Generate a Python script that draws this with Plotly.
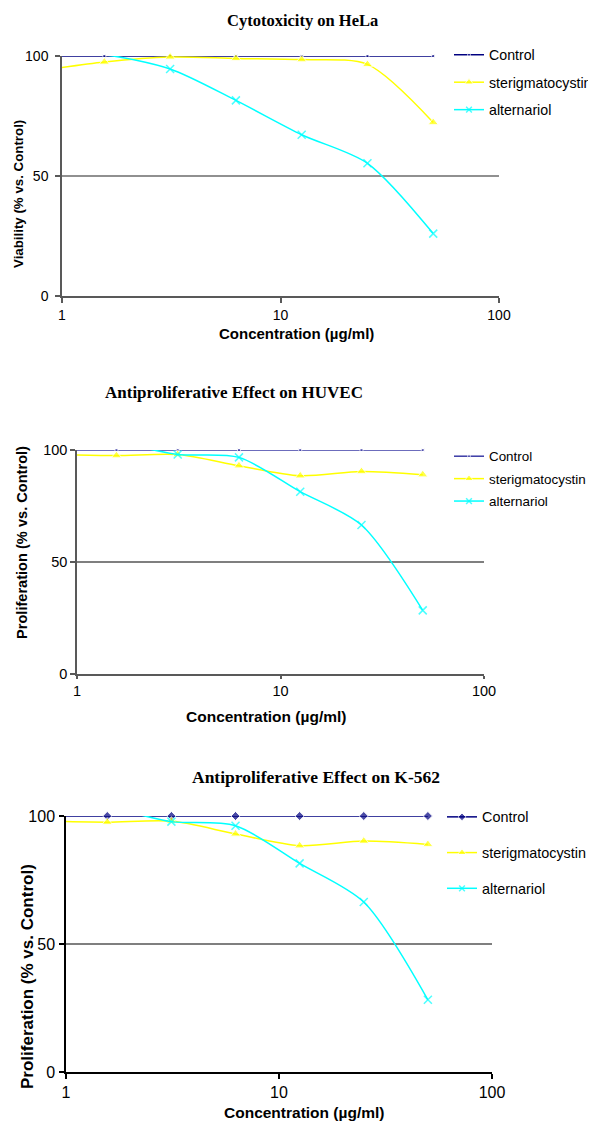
import plotly.graph_objects as go

W, H = 596, 1122
OFF = 8  # the page body has a default 8 px margin
FW, FH = W - OFF, H - OFF

# ---------------- data ----------------
conc = [0.78125, 1.5625, 3.125, 6.25, 12.5, 25, 50]
tick_vals_x = [1, 10, 100]
tick_text_x = ["1", "10", "100"]
tick_vals_y = [0, 50, 100]

series_names = ["Control", "sterigmatocystin", "alternariol"]

hela_control = [100, 100, 100, 100, 100, 100, 100]
hela_sterig = [93.8, 97.5, 99.6, 99.0, 98.5, 96.5, 72.3]
hela_altern = [101.0, 100.5, 94.6, 81.5, 67.2, 55.3, 26.0]

huvec_control = [100, 100, 100, 100, 100, 100, 100]
huvec_sterig = [98.0, 97.5, 98.0, 93.0, 88.5, 90.4, 89.0]
huvec_altern = [102.0, 103.0, 98.0, 96.7, 81.4, 66.5, 28.4]

k562_control = [100, 100, 100, 100, 100, 100, 100]
k562_sterig = [98.0, 97.6, 98.0, 93.0, 88.4, 90.2, 88.9]
k562_altern = [102.0, 103.0, 97.8, 96.2, 81.5, 66.4, 28.2]

titles = ["Cytotoxicity on HeLa", "Antiproliferative Effect on HUVEC",
          "Antiproliferative Effect on K-562"]
x_title = "Concentration (µg/ml)"
y_titles = ["Viability (% vs. Control)", "Proliferation (% vs. Control)",
            "Proliferation (% vs. Control)"]


# ---------------- layout helpers (page pixel based) ----------------
def px(x):
    return (x - OFF) / FW


def py(y):
    return 1 - (y - OFF) / FH


panels = [
    dict(x0=62, x1=499, ytop=56, ybot=296, data=(hela_control, hela_sterig, hela_altern),
         ctrl_color="#000080", ctrl_symbol="square", ctrl_size=3, axis_color="#595959",
         grid_color="#222222", tick_font=14, title_font=16.5, xt_font=15, yt_font=13.3,
         leg_font=14.2, xstand=0, ystand=4, xticklen=5,
         title_xy=(302, 20), xt_xy=(296, 333), yt_xy=(18, 194),
         leg_xy=(449, 39), leg_gap=6),
    dict(x0=77, x1=484, ytop=450, ybot=674, data=(huvec_control, huvec_sterig, huvec_altern),
         ctrl_color="#3b3ba6", ctrl_symbol="square", ctrl_size=3, axis_color="#595959",
         grid_color="#000000", tick_font=14.5, title_font=17, xt_font=15.5, yt_font=14.6,
         leg_font=13.4, xstand=0, ystand=0, xticklen=3,
         title_xy=(234, 392), xt_xy=(266, 716), yt_xy=(22, 543),
         leg_xy=(449, 441), leg_gap=2),
    dict(x0=66, x1=492, ytop=816, ybot=1072, data=(k562_control, k562_sterig, k562_altern),
         ctrl_color="#000080", ctrl_symbol="diamond", ctrl_size=7, axis_color="#000000",
         grid_color="#000000", tick_font=16, title_font=17.5, xt_font=15.5, yt_font=17,
         leg_font=14.4, xstand=0, ystand=1, xticklen=5,
         title_xy=(316, 777), xt_xy=(304, 1112), yt_xy=(27, 977),
         leg_xy=(442, 801), leg_gap=14),
]

fig = go.Figure()
annotations = []
shapes = []


def sizes(xs, ys, s):
    return [0 if (x < 1 or y > 100) else s for x, y in zip(xs, ys)]


for i, p in enumerate(panels):
    n = "" if i == 0 else str(i + 1)
    xa, ya = "x" + n, "y" + n
    leg = "legend" + n
    ctrl, ster, alt = p["data"]

    fig.add_trace(go.Scatter(
        x=conc, y=ctrl, name=series_names[0], mode="lines+markers",
        xaxis=xa, yaxis=ya, legend=leg, legendgroup=f"c{i}", cliponaxis=False,
        line=dict(color=p["ctrl_color"], width=1.5),
        marker=dict(symbol=p["ctrl_symbol"], color=p["ctrl_color"],
                    size=sizes(conc, ctrl, p["ctrl_size"]))))
    fig.add_trace(go.Scatter(
        x=conc, y=ster, name=series_names[1], mode="lines+markers",
        xaxis=xa, yaxis=ya, legend=leg, legendgroup=f"s{i}", cliponaxis=False,
        line=dict(color="#FFFF00", width=1.5, shape="spline", smoothing=0.8),
        marker=dict(symbol="triangle-up", color="#FFFF00",
                    size=sizes(conc, ster, 9))))
    fig.add_trace(go.Scatter(
        x=conc, y=alt, name=series_names[2], mode="lines+markers",
        xaxis=xa, yaxis=ya, legend=leg, legendgroup=f"a{i}", cliponaxis=False,
        line=dict(color="#00FFFF", width=1.5, shape="spline", smoothing=0.8),
        marker=dict(symbol="x-thin", color="#00FFFF", size=sizes(conc, alt, 8),
                    line=dict(color="#00FFFF", width=1.5))))

    xdom = [px(p["x0"]), px(p["x1"])]
    ydom = [py(p["ybot"]), py(p["ytop"])]
    axis_common = dict(showline=True, linecolor=p["axis_color"], linewidth=1.5,
                       ticks="outside", tickwidth=1.5, automargin=False,
                       tickcolor=p["axis_color"], showgrid=False, zeroline=False,
                       tickfont=dict(family="Liberation Sans, Arial", size=p["tick_font"],
                                     color="#000000"))
    fig.layout["xaxis" + n] = dict(axis_common, type="log", range=[0, 2], ticklen=p["xticklen"],
                                   tickvals=tick_vals_x, ticktext=tick_text_x,
                                   domain=xdom, anchor=ya, ticklabelstandoff=p["xstand"])
    fig.layout["yaxis" + n] = dict(axis_common, range=[0, 100], tickvals=tick_vals_y, ticklen=5,
                                   domain=ydom, anchor=xa, ticklabelstandoff=p["ystand"])

    shapes.append(dict(type="line", xref=xa + " domain", yref=ya, x0=0, x1=1, y0=50, y1=50,
                       line=dict(color=p["grid_color"], width=1.2), layer="below"))

    annotations.append(dict(text="<b>" + titles[i] + "</b>", xref="paper", yref="paper",
                            x=px(p["title_xy"][0]), y=py(p["title_xy"][1]),
                            xanchor="center", yanchor="middle", showarrow=False,
                            font=dict(family="Liberation Serif, Times New Roman",
                                      size=p["title_font"], color="#000000")))
    annotations.append(dict(text="<b>" + x_title + "</b>", xref="paper", yref="paper",
                            x=px(p["xt_xy"][0]), y=py(p["xt_xy"][1]),
                            xanchor="center", yanchor="middle", showarrow=False,
                            font=dict(family="Liberation Sans, Arial",
                                      size=p["xt_font"], color="#000000")))
    annotations.append(dict(text="<b>" + y_titles[i] + "</b>", xref="paper", yref="paper",
                            x=px(p["yt_xy"][0]), y=py(p["yt_xy"][1]), textangle=-90,
                            xanchor="center", yanchor="middle", showarrow=False,
                            font=dict(family="Liberation Sans, Arial",
                                      size=p["yt_font"], color="#000000")))

    fig.layout[leg] = dict(x=px(p["leg_xy"][0]), y=py(p["leg_xy"][1]),
                           xanchor="left", yanchor="top", bgcolor="rgba(0,0,0,0)",
                           traceorder="grouped", tracegroupgap=p["leg_gap"],
                           font=dict(family="Liberation Sans, Arial", size=p["leg_font"],
                                     color="#000000"))

fig.update_layout(width=FW, height=FH,
                  margin=dict(l=0, r=0, t=0, b=0, pad=0, autoexpand=False),
                  paper_bgcolor="white", plot_bgcolor="white",
                  annotations=annotations, shapes=shapes, showlegend=True)

fig.write_html("out.html")
